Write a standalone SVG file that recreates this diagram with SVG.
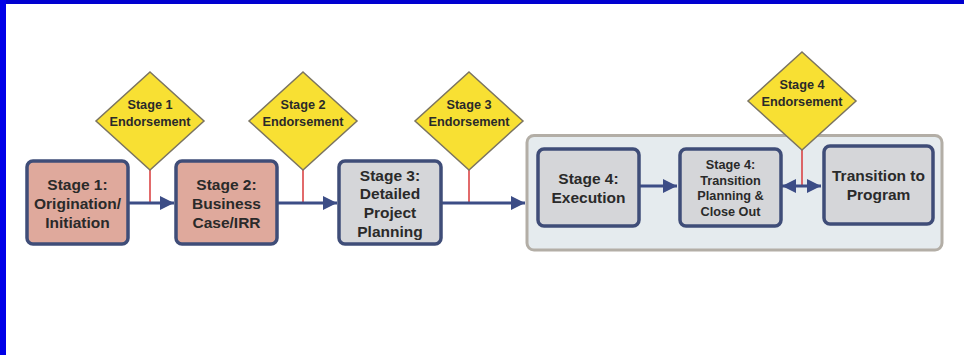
<svg xmlns="http://www.w3.org/2000/svg" width="964" height="355" viewBox="0 0 964 355">
<style>
  .t{font-family:"Liberation Sans",Arial,sans-serif;font-weight:bold;fill:#2a2a2a;text-anchor:middle}
  .big{font-size:15.5px}
  .sm{font-size:12.7px}
  .box{stroke:#3f4d78;stroke-width:3.5}
  .pink{fill:#dfa99c}
  .gray{fill:#d5d6d9}
  .dia{fill:#f8e033;stroke:#7b7460;stroke-width:1.5}
  .conn{stroke:#3c4d86;stroke-width:3;fill:none}
  .red{stroke:#d8383a;stroke-width:1.5}
</style>
<defs>
  <marker id="ah" viewBox="0 0 10 10" refX="10" refY="5" markerWidth="14" markerHeight="14" markerUnits="userSpaceOnUse" orient="auto-start-reverse">
    <path d="M0,0 L10,5 L0,10 z" fill="#3c4d86"/>
  </marker>
</defs>
<rect x="0" y="0" width="964" height="355" fill="#ffffff"/>
<rect x="0" y="0" width="964" height="4" fill="#0000d0"/>
<rect x="0" y="0" width="6" height="355" fill="#0000e8"/>

<g id="container">
  <rect x="527" y="135.5" width="415" height="114.5" rx="7" fill="#e5ebee" stroke="#b3aea6" stroke-width="3"/>
</g>

<g id="connectors">
  <line class="red" x1="150" y1="168" x2="150" y2="203"/>
  <line class="red" x1="303" y1="168" x2="303" y2="203"/>
  <line class="red" x1="469" y1="168" x2="469" y2="203"/>
  <line class="red" x1="802" y1="148" x2="802" y2="186"/>
  <line class="conn" x1="128" y1="203" x2="174" y2="203" marker-end="url(#ah)"/>
  <line class="conn" x1="277" y1="203" x2="337" y2="203" marker-end="url(#ah)"/>
  <line class="conn" x1="441" y1="203" x2="525" y2="203" marker-end="url(#ah)"/>
  <line class="conn" x1="639" y1="186" x2="677" y2="186" marker-end="url(#ah)"/>
  <line class="conn" x1="782" y1="186" x2="821" y2="186" marker-start="url(#ah)" marker-end="url(#ah)"/>
</g>

<g id="d1">
  <polygon class="dia" points="150,72 204,121 150,170 96,121"/>
  <text class="t sm" x="150" y="109">Stage 1</text>
  <text class="t sm" x="150" y="126">Endorsement</text>
</g>
<g id="d2">
  <polygon class="dia" points="303,72 357,121 303,170 249,121"/>
  <text class="t sm" x="303" y="109">Stage 2</text>
  <text class="t sm" x="303" y="126">Endorsement</text>
</g>
<g id="d3">
  <polygon class="dia" points="469,72 523,121 469,170 415,121"/>
  <text class="t sm" x="469" y="109">Stage 3</text>
  <text class="t sm" x="469" y="126">Endorsement</text>
</g>
<g id="d4">
  <polygon class="dia" points="802,52 856,101 802,150 748,101"/>
  <text class="t sm" x="802" y="89">Stage 4</text>
  <text class="t sm" x="802" y="106">Endorsement</text>
</g>

<g id="s1">
  <rect class="box pink" x="27" y="161" width="101" height="83" rx="6"/>
  <text class="t big" x="77.5" y="190">Stage 1:</text>
  <text class="t big" x="77.5" y="209">Origination/</text>
  <text class="t big" x="77.5" y="228">Initiation</text>
</g>
<g id="s2">
  <rect class="box pink" x="176" y="161" width="101" height="83" rx="6"/>
  <text class="t big" x="226.5" y="190">Stage 2:</text>
  <text class="t big" x="226.5" y="209">Business</text>
  <text class="t big" x="226.5" y="228">Case/IRR</text>
</g>
<g id="s3">
  <rect class="box gray" x="339" y="161" width="102" height="83" rx="6"/>
  <text class="t big" x="390" y="181">Stage 3:</text>
  <text class="t big" x="390" y="199">Detailed</text>
  <text class="t big" x="390" y="218">Project</text>
  <text class="t big" x="390" y="237">Planning</text>
</g>
<g id="s4">
  <rect class="box gray" x="538" y="149" width="101" height="77" rx="6"/>
  <text class="t big" x="588.5" y="184">Stage 4:</text>
  <text class="t big" x="588.5" y="203">Execution</text>
</g>
<g id="s4b">
  <rect class="box gray" x="680" y="149" width="101" height="77" rx="6"/>
  <text class="t sm" x="730.5" y="169">Stage 4:</text>
  <text class="t sm" x="730.5" y="185">Transition</text>
  <text class="t sm" x="730.5" y="200">Planning &amp;</text>
  <text class="t sm" x="730.5" y="216">Close Out</text>
</g>
<g id="tp">
  <rect class="box gray" x="824" y="146" width="109" height="78" rx="6"/>
  <text class="t big" x="878.5" y="181">Transition to</text>
  <text class="t big" x="878.5" y="200">Program</text>
</g>
</svg>
